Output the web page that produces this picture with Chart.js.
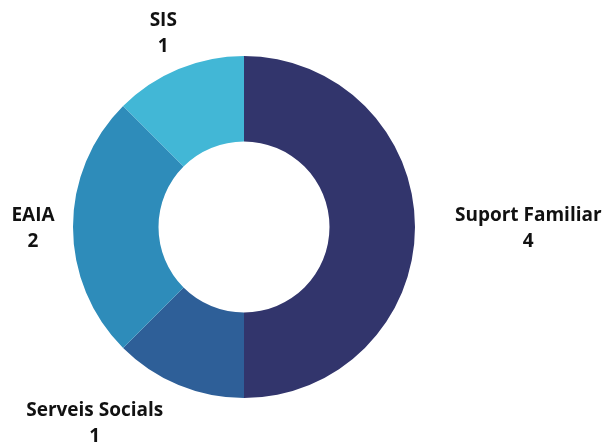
<!DOCTYPE html>
<html>
<head>
<meta charset="utf-8">
<script src="https://cdn.jsdelivr.net/npm/chart.js@4/dist/chart.umd.min.js"></script>
<style>
html,body{margin:0;padding:0;background:#fff;}
#wrap{width:605px;height:443px;position:relative;}
</style>
</head>
<body>
<div id="wrap"><canvas id="c" width="605" height="443"></canvas></div>
<script>
const categories = ["Suport Familiar", "Serveis Socials", "EAIA", "SIS"];
const values = [4, 1, 2, 1];
const colors = ["#32356c", "#2e5f98", "#2e8cba", "#42b7d6"];

const outsideLabels = {
  id: 'outsideLabels',
  afterDatasetsDraw(chart, args, opts) {
    const ctx = chart.ctx;
    const meta = chart.getDatasetMeta(0);
    const ds = chart.data.datasets[0];
    ctx.save();
    ctx.font = opts.font;
    ctx.fillStyle = opts.color;
    ctx.textBaseline = 'alphabetic';
    ctx.textAlign = 'center';
    meta.data.forEach((arc, i) => {
      const p = arc.getProps(['x','y','startAngle','endAngle','outerRadius'], true);
      const mid = (p.startAngle + p.endAngle) / 2;
      const dx = Math.cos(mid), dy = Math.sin(mid);
      const r = p.outerRadius + opts.offset;
      const ax = p.x + dx * r, ay = p.y + dy * r;
      const lines = [chart.data.labels[i], String(ds.data[i])];
      const w = Math.max(...lines.map(l => ctx.measureText(l).width));
      const h = lines.length * opts.lineHeight;
      let cx = ax, cy = ay;
      // nearest point of the centred box to the chart centre
      const nx = Math.min(Math.max(p.x, cx - w / 2), cx + w / 2);
      const ny = Math.min(Math.max(p.y, cy - h / 2), cy + h / 2);
      if (Math.hypot(nx - p.x, ny - p.y) < p.outerRadius + opts.margin) {
        // overlaps the ring: align the box edge to the anchor instead
        if (dx > 0.05) cx = ax + w / 2; else if (dx < -0.05) cx = ax - w / 2;
      }
      lines.forEach((l, k) => {
        const capMid = cy + (k - (lines.length - 1) / 2) * opts.lineHeight;
        ctx.fillText(l, cx, capMid + opts.capHalf);
      });
    });
    ctx.restore();
  }
};

new Chart(document.getElementById('c'), {
  type: 'doughnut',
  data: {
    labels: categories,
    datasets: [{
      data: values,
      backgroundColor: colors,
      borderWidth: 0,
      hoverOffset: 0
    }]
  },
  options: {
    responsive: false,
    animation: false,
    cutout: '50%',
    layout: { padding: { top: 56, bottom: 45, left: 73, right: 190 } },
    plugins: {
      legend: { display: false },
      tooltip: { enabled: false },
      outsideLabels: {
        font: 'bold 19px "Open Sans"',
        color: '#111',
        offset: 40,
        margin: 5,
        lineHeight: 26,
        capHalf: 6.8
      }
    }
  },
  plugins: [outsideLabels]
});
</script>
</body>
</html>
